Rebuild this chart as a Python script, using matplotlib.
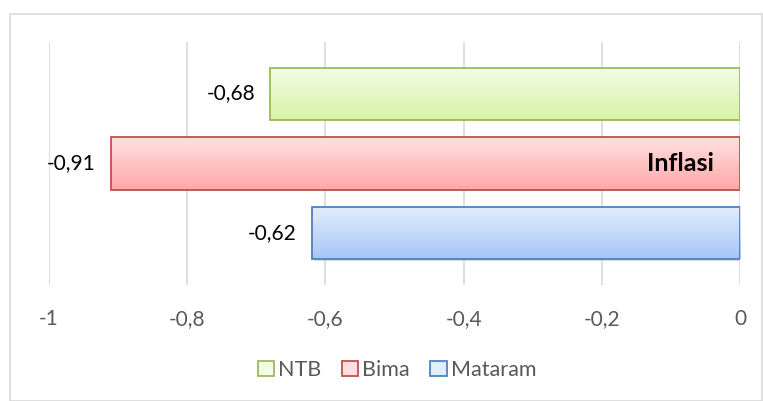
import numpy as np
import matplotlib.pyplot as plt
from matplotlib.patches import Rectangle, Patch

# data
series = ["NTB", "Bima", "Mataram"]
values = [-0.68, -0.91, -0.62]
positions = [2, 1, 0]
category_label = "Inflasi"
xticks = [-1, -0.8, -0.6, -0.4, -0.2, 0]
xtick_labels = ["-1", "-0,8", "-0,6", "-0,4", "-0,2", "0"]

# gradient colours (top, bottom) and edge colour for each series
grad_top = ["#f3fbe6", "#ffe0e0", "#e3edfd"]
grad_bottom = ["#d7f3a6", "#ffa8a8", "#a7c6f7"]
edges = ["#9bbb59", "#c0504d", "#4f81bd"]

plt.rcParams["font.family"] = ["Lato", "DejaVu Sans"]

fig = plt.figure(figsize=(7.63, 4.01), dpi=100)
W, H = 763, 401
ax = fig.add_axes([49 / W, (H - 285) / H, (740 - 49) / W, (285 - 42) / H])

bar_h = 0.743
xmin, xmax = -1, 0
ymin, ymax = -0.736, 2.736


def hex2rgb(h):
    h = h.lstrip("#")
    return np.array([int(h[i:i + 2], 16) / 255 for i in (0, 2, 4)])


for v, y, ct, cb, ec in zip(values, positions, grad_top, grad_bottom, edges):
    # shadow
    ax.add_patch(Rectangle((v + 0.003, y - bar_h / 2 - 0.025), -v, bar_h,
                           facecolor="#bbbbbb", edgecolor="none", alpha=0.5, zorder=2))
    # gradient
    t = np.linspace(0, 1, 64)[:, None]
    img = (1 - t) * hex2rgb(ct) + t * hex2rgb(cb)
    img = img[:, None, :]
    ax.imshow(img, extent=[v, 0, y - bar_h / 2, y + bar_h / 2],
              aspect="auto", origin="upper", zorder=3, interpolation="bilinear")
    ax.add_patch(Rectangle((v, y - bar_h / 2), -v, bar_h, facecolor="none",
                           edgecolor=ec, linewidth=1.3, zorder=4))
    ax.text(v - 0.022, y, f"{v:.2f}".replace(".", ","), ha="right", va="center",
            fontsize=15, color="#000000", zorder=5)

ax.text(-0.038, positions[1], category_label, ha="right", va="center",
        fontsize=18, fontweight="bold", color="#000000", zorder=5)

ax.set_xlim(xmin, xmax)
ax.set_ylim(ymin, ymax)
ax.set_xticks(xticks)
ax.set_xticklabels(xtick_labels, fontsize=15, color="#595959")
ax.set_yticks([])
ax.tick_params(axis="x", length=0, pad=17)
ax.grid(axis="x", color="#d9d9d9", linewidth=1.2, zorder=0)
ax.set_axisbelow(True)
for s in ax.spines.values():
    s.set_visible(False)

handles = [Patch(facecolor=c, edgecolor=e, linewidth=1.3) for c, e in zip(grad_top, edges)]
fig.legend(handles, series, loc="center", bbox_to_anchor=(397 / W, (H - 370) / H),
           ncol=3, frameon=False, fontsize=15.5, handlelength=0.75, handleheight=0.75,
           handletextpad=0.2, columnspacing=0.95, labelcolor="#595959")

# chart border
fig.add_artist(Rectangle((9.5 / W, 0.5 / H), (762 - 9.5) / W, (H - 13.5 - 0.5) / H,
                         transform=fig.transFigure, facecolor="none",
                         edgecolor="#d9d9d9", linewidth=1.2))

fig.savefig("out.png", dpi=100)
